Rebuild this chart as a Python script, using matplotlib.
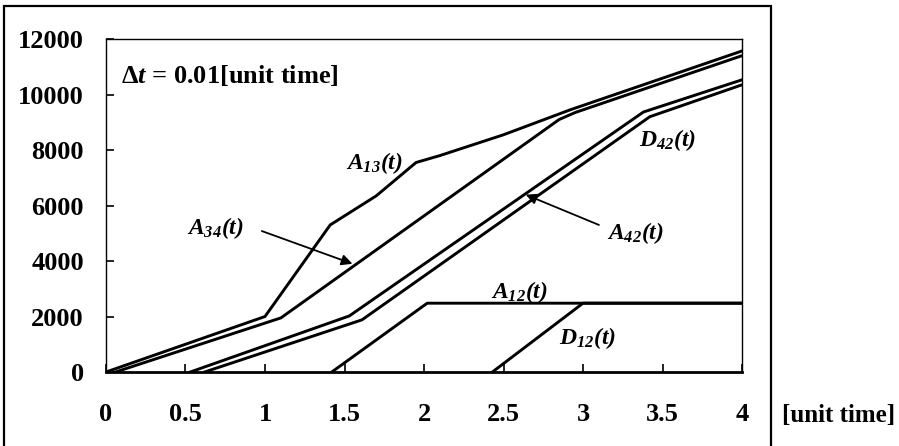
#!/usr/bin/env python3

import matplotlib
matplotlib.use("Agg")
import matplotlib.pyplot as plt
from matplotlib.patches import Rectangle


# cumulative curves: (time, count)
a13_t = [0, 1.0, 1.41, 1.7, 1.95, 2.1, 2.5, 2.92, 4.0]
a13_y = [0, 2000, 5300, 6350, 7550, 7800, 8550, 9450, 11570]

a34_t = [0.06, 1.1, 2.85, 2.95, 4.0]
a34_y = [0, 1950, 9100, 9350, 11400]

a42_t = [0.53, 1.53, 3.38, 4.0]
a42_y = [0, 2020, 9370, 10530]

d42_t = [0.62, 1.61, 3.42, 4.0]
d42_y = [0, 1880, 9200, 10350]

a12_t = [1.42, 2.02, 4.0]
a12_y = [0, 2480, 2480]

d12_t = [2.43, 3.0, 4.0]
d12_y = [0, 2480, 2480]

xticks = [0, 0.5, 1, 1.5, 2, 2.5, 3, 3.5, 4]
xtick_labels = ["0", "0.5", "1", "1.5", "2", "2.5", "3", "3.5", "4"]
yticks = [0, 2000, 4000, 6000, 8000, 10000, 12000]


def main():
    plt.rcParams["font.family"] = ["Liberation Serif", "DejaVu Serif"]
    # math text only used for the italic curve names, digits italic too
    plt.rcParams["mathtext.fontset"] = "custom"
    plt.rcParams["mathtext.rm"] = "Liberation Serif:italic:bold"
    plt.rcParams["mathtext.it"] = "Liberation Serif:italic:bold"
    plt.rcParams["mathtext.bf"] = "Liberation Serif:bold"

    fig = plt.figure(figsize=(8.99, 4.46), dpi=100)
    ax = fig.add_axes([0.1179, 0.1659, 0.7075, 0.7466])

    lw = 2.1
    for t, y in [(a13_t, a13_y), (a34_t, a34_y), (a42_t, a42_y),
                 (d42_t, d42_y), (a12_t, a12_y), (d12_t, d12_y)]:
        ax.plot(t, y, color="black", linewidth=lw)

    ax.set_xlim(0, 4)
    ax.set_ylim(0, 12000)
    ax.set_xticks(xticks)
    ax.set_xticklabels(xtick_labels)
    ax.set_yticks(yticks)
    ax.tick_params(direction="in", length=6, width=1.2, labelsize=19,
                   top=False, right=False)
    ax.tick_params(axis="x", pad=22)
    ax.tick_params(axis="y", pad=16)
    for lab in ax.get_xticklabels() + ax.get_yticklabels():
        lab.set_fontweight("bold")

    for side in ["top", "right", "left"]:
        ax.spines[side].set_linewidth(1.0)
    ax.spines["bottom"].set_linewidth(2.0)

    # curve labels
    lab_kw = dict(fontsize=17, ha="center", va="center")
    ax.text(1.69, 7530, r"$A_{13}(t)$", **lab_kw)
    ax.text(0.69, 5190, r"$A_{34}(t)$", **lab_kw)
    ax.text(3.33, 5010, r"$A_{42}(t)$", **lab_kw)
    ax.text(3.53, 8360, r"$D_{42}(t)$", **lab_kw)
    ax.text(2.60, 2880, r"$A_{12}(t)$", **lab_kw)
    ax.text(3.03, 1225, r"$D_{12}(t)$", **lab_kw)

    arrow = dict(arrowstyle="-|>", color="black", lw=1.3, mutation_scale=16,
                 shrinkA=0, shrinkB=0)
    ax.annotate("", xy=(1.55, 3900), xytext=(0.98, 5080), arrowprops=arrow)
    ax.annotate("", xy=(2.64, 6390), xytext=(3.10, 5300), arrowprops=arrow)

    ax.text(0.094, 10700, "Δ$t$ = 0.01[unit time]",
            fontsize=19, fontweight="bold", ha="left", va="center")

    fig.text(0.8698, 0.0673, "[unit time]", fontsize=18, fontweight="bold",
             ha="left", va="center")

    # outer frame around the chart
    fig.patches.append(Rectangle((0.00445, -0.05), 0.8532, 1.0365,
                                 transform=fig.transFigure, fill=False,
                                 edgecolor="black", linewidth=1.6))

    fig.savefig("out.png", dpi=100)


if __name__ == "__main__":
    main()
